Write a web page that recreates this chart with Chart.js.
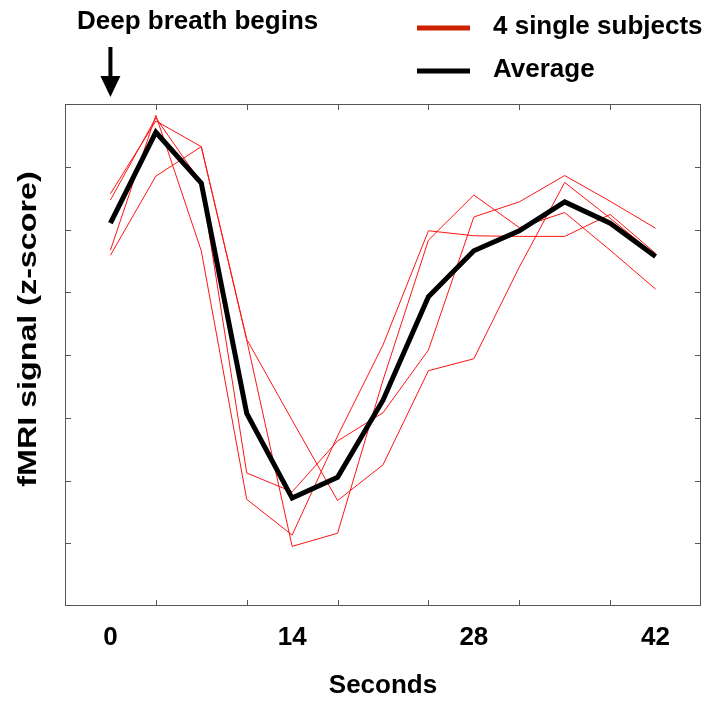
<!DOCTYPE html>
<html>
<head>
<meta charset="utf-8">
<script src="https://cdn.jsdelivr.net/npm/chart.js@4"></script>
<style>
  html, body { margin: 0; padding: 0; background: #fff; }
</style>
</head>
<body>
<canvas id="chart" width="711" height="701"></canvas>
<script>
// time after the deep breath, one volume every 3.5 s
const seconds = [0, 3.5, 7, 10.5, 14, 17.5, 21, 24.5, 28, 31.5, 35, 38.5, 42];

// single subjects, z-score
const subject1 = [1.59, 2.85, 3.32, 0.25, -1.04, -2.32, -1.75, -0.25, -0.06, 1.40, 2.75, 2.18, 1.59];
const subject2 = [2.57, 3.73, 3.32, 0.24, -3.05, -2.84, -0.40, 1.83, 2.55, 2.03, 2.27, 1.67, 1.05];
const subject3 = [2.47, 3.78, 2.74, -1.88, -2.18, -1.37, -0.92, 0.08, 2.20, 2.44, 2.86, 2.45, 2.02];
const subject4 = [1.67, 3.82, 1.66, -2.30, -2.87, -1.29, 0.16, 1.98, 1.90, 1.89, 1.89, 2.24, 1.62];
const average  = [2.10, 3.55, 2.74, -0.93, -2.28, -1.95, -0.72, 0.93, 1.66, 1.98, 2.44, 2.10, 1.57];

const xTickLabels = [0, 14, 28, 42];
const xTickMarks = [3.5, 10.5, 17.5, 24.5, 31.5, 38.5];
const yTickMarks = [-3, -2, -1, 0, 1, 2, 3];

const legendLabels = ['4 single subjects', 'Average'];
const annotationText = 'Deep breath begins';
const yTitle = 'fMRI signal (z-score)';
const xTitle = 'Seconds';

const FONT = "'Liberation Sans', Arial, Helvetica, sans-serif";
Chart.defaults.font.family = FONT;

function toPoints(vals){
    return seconds.map((s, i) => ({x: s, y: vals[i]}));
}

function subjectSet(vals){
    return {
        data: toPoints(vals),
        borderColor: 'rgb(255,20,20)',
        borderWidth: 1,
        pointRadius: 0,
        tension: 0,
        order: 1
    };
}

// frame, inward tick marks, legend, arrow and y title
const decorations = {
    id: 'decorations',
    beforeDatasetsDraw(chart){
        const {ctx, chartArea: a, scales: {x, y}} = chart;
        ctx.save();
        ctx.strokeStyle = '#555';
        ctx.lineWidth = 1;
        ctx.strokeRect(a.left + 0.5, a.top + 0.5, a.right - a.left - 1, a.bottom - a.top - 1);
        ctx.beginPath();
        xTickMarks.forEach(v => {
            const px = Math.round(x.getPixelForValue(v)) + 0.5;
            ctx.moveTo(px, a.top); ctx.lineTo(px, a.top + 6);
            ctx.moveTo(px, a.bottom); ctx.lineTo(px, a.bottom - 6);
        });
        yTickMarks.forEach(v => {
            const py = Math.round(y.getPixelForValue(v)) + 0.5;
            ctx.moveTo(a.left, py); ctx.lineTo(a.left + 6, py);
            ctx.moveTo(a.right, py); ctx.lineTo(a.right - 6, py);
        });
        ctx.stroke();
        ctx.restore();
    },
    afterDraw(chart){
        const {ctx, scales: {x, y}} = chart;
        ctx.save();
        ctx.font = 'bold 26px ' + FONT;
        ctx.fillStyle = '#000';
        ctx.textBaseline = 'middle';
        ctx.textAlign = 'left';

        // legend
        ctx.lineWidth = 5;
        ctx.strokeStyle = '#cc2200';
        ctx.beginPath(); ctx.moveTo(417, 28); ctx.lineTo(470, 28); ctx.stroke();
        ctx.fillText(legendLabels[0], 493, 27);
        ctx.strokeStyle = '#000';
        ctx.beginPath(); ctx.moveTo(417, 71); ctx.lineTo(470, 71); ctx.stroke();
        ctx.fillText(legendLabels[1], 493, 70);

        // annotation + arrow at t = 0
        ctx.fillText(annotationText, 77, 22);
        const ax = x.getPixelForValue(0);
        ctx.lineWidth = 4;
        ctx.beginPath(); ctx.moveTo(ax, 47); ctx.lineTo(ax, 78); ctx.stroke();
        ctx.beginPath();
        ctx.moveTo(ax - 10, 76); ctx.lineTo(ax + 10, 76); ctx.lineTo(ax, 97);
        ctx.closePath(); ctx.fill();

        // y title (stretched along its length like the original)
        ctx.translate(29, 329);
        ctx.rotate(-Math.PI / 2);
        ctx.scale(1.24, 1);
        ctx.textAlign = 'center';
        ctx.fillText(yTitle, 0, 0);
        ctx.restore();
    }
};

new Chart(document.getElementById('chart'), {
    type: 'line',
    data: {
        datasets: [
            subjectSet(subject1),
            subjectSet(subject2),
            subjectSet(subject3),
            subjectSet(subject4),
            {
                data: toPoints(average),
                borderColor: '#000',
                borderWidth: 5,
                pointRadius: 0,
                tension: 0,
                order: 0
            }
        ]
    },
    options: {
        responsive: false,
        animation: false,
        devicePixelRatio: 1,
        layout: {padding: {top: 104, right: 10, left: 0, bottom: 0}},
        plugins: {legend: {display: false}, tooltip: {enabled: false}},
        scales: {
            x: {
                type: 'linear',
                position: 'bottom',
                min: -3.5,
                max: 45.5,
                afterBuildTicks: s => { s.ticks = xTickLabels.map(v => ({value: v})); },
                afterFit: s => { s.height = 95; },
                grid: {display: false, drawTicks: false},
                border: {display: false},
                ticks: {
                    color: '#000',
                    padding: 16,
                    maxRotation: 0,
                    font: {size: 26, weight: 'bold'}
                },
                title: {
                    display: true,
                    text: xTitle,
                    color: '#000',
                    padding: {top: 0, bottom: 0},
                    font: {size: 26, weight: 'bold'}
                }
            },
            y: {
                type: 'linear',
                min: -4,
                max: 4,
                afterFit: s => { s.width = 65; },
                grid: {display: false, drawTicks: false},
                border: {display: false},
                ticks: {display: false}
            }
        }
    },
    plugins: [decorations]
});
</script>
</body>
</html>
